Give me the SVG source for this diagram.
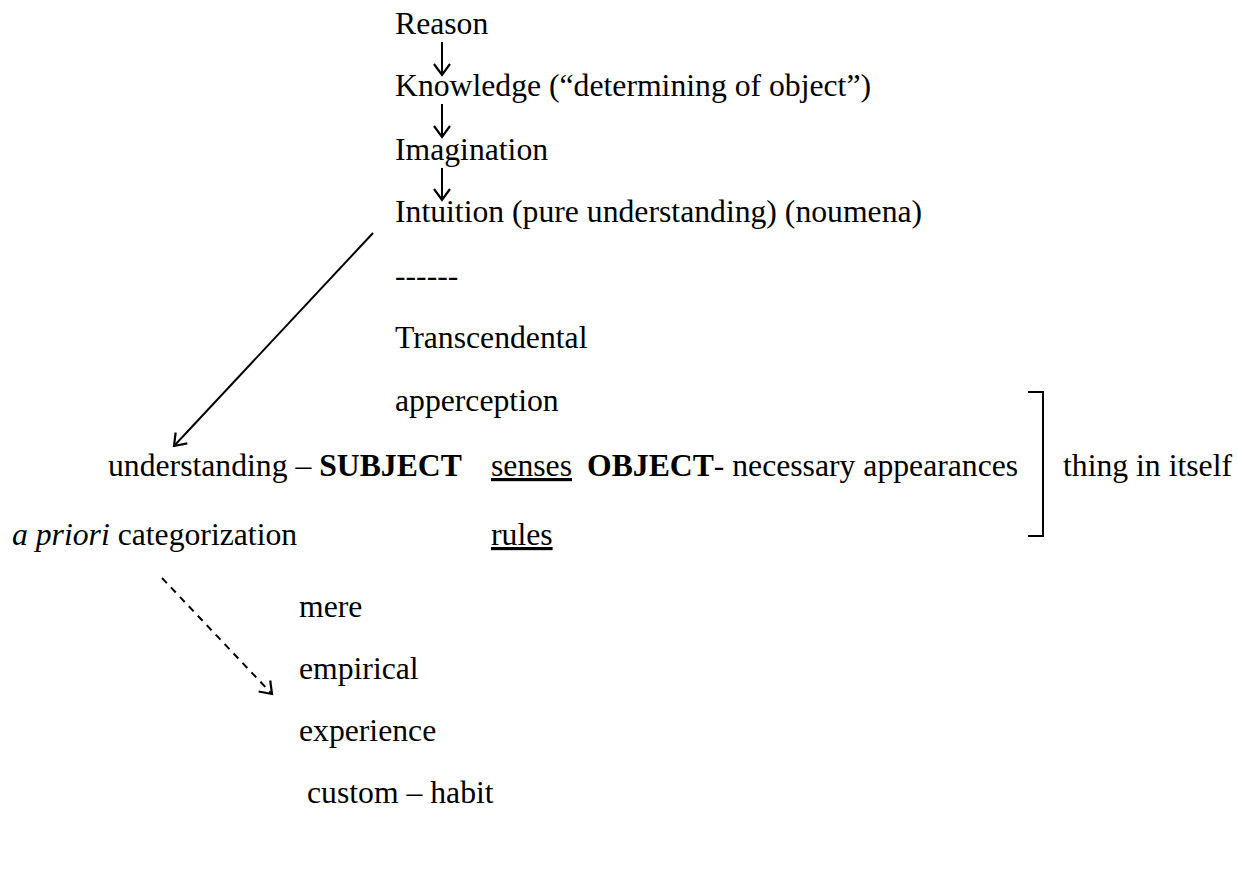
<svg xmlns="http://www.w3.org/2000/svg" width="1238" height="869" viewBox="0 0 1238 869">
<defs>
<style>
text{font-family:"Liberation Serif","Times New Roman",serif;font-size:31.7px;fill:#000}
.b{font-weight:bold}
.i{font-style:italic}
.u{text-decoration:underline}
.ln{stroke:#000;stroke-width:2;fill:none}
.dash{stroke-dasharray:7,6}
</style>
<marker id="v" markerWidth="24" markerHeight="24" refX="12" refY="12" orient="auto" markerUnits="userSpaceOnUse">
<path d="M1,4 L12,12 L1,20" fill="none" stroke="#000" stroke-width="2.2"/>
</marker>
</defs>
<rect width="1238" height="869" fill="#fff"/>
<g id="n-reason"><text x="395" y="34">Reason</text></g>
<g id="n-knowledge"><text x="395" y="96">Knowledge (“determining of object”)</text></g>
<g id="n-imagination"><text x="395" y="160">Imagination</text></g>
<g id="n-intuition"><text x="395" y="222">Intuition (pure understanding) (noumena)</text></g>
<g id="n-dashes"><text x="395" y="286">------</text></g>
<g id="n-transcendental"><text x="395" y="348">Transcendental</text></g>
<g id="n-apperception"><text x="395" y="411">apperception</text></g>
<g id="n-understanding"><text x="108" y="476">understanding – <tspan class="b">SUBJECT</tspan></text></g>
<g id="n-senses"><text x="491" y="476" class="u">senses</text></g>
<g id="n-object"><text x="587" y="476"><tspan class="b">OBJECT</tspan>- necessary appearances</text></g>
<g id="n-thing"><text x="1063" y="476">thing in itself</text></g>
<g id="n-apriori"><text x="12" y="545"><tspan class="i">a priori</tspan> categorization</text></g>
<g id="n-rules"><text x="491" y="545" class="u">rules</text></g>
<g id="n-mere"><text x="299" y="617">mere</text></g>
<g id="n-empirical"><text x="299" y="679">empirical</text></g>
<g id="n-experience"><text x="299" y="741">experience</text></g>
<g id="n-custom"><text x="307" y="803">custom – habit</text></g>
<g id="bracket"><path class="ln" d="M1028,392 H1043 V536 H1028"/></g>
<g id="connectors">
<line class="ln" x1="442" y1="42" x2="442" y2="75" marker-end="url(#v)"/>
<line class="ln" x1="442" y1="104" x2="442" y2="137" marker-end="url(#v)"/>
<line class="ln" x1="442" y1="168" x2="442" y2="200" marker-end="url(#v)"/>
<line class="ln" x1="373" y1="233" x2="174" y2="446" marker-end="url(#v)"/>
<line class="ln dash" x1="162" y1="578" x2="272" y2="694" marker-end="url(#v)"/>
</g>
</svg>
